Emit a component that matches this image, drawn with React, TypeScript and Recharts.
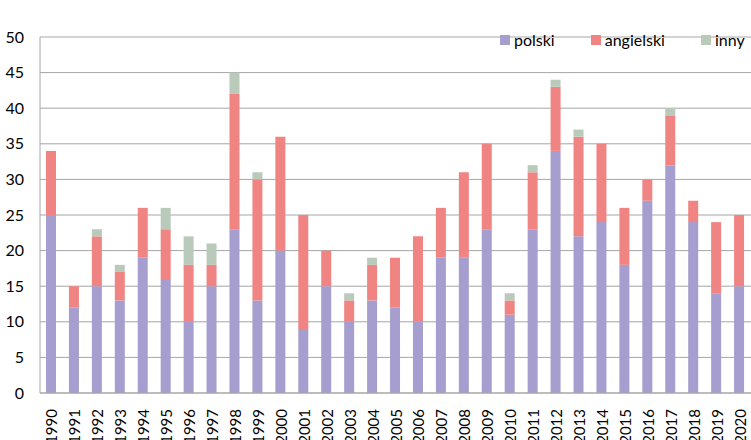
import React from 'react';
import { BarChart, Bar, XAxis, YAxis, CartesianGrid, Legend } from 'recharts';

const years = [
  '1990', '1991', '1992', '1993', '1994', '1995', '1996', '1997', '1998', '1999',
  '2000', '2001', '2002', '2003', '2004', '2005', '2006', '2007', '2008', '2009',
  '2010', '2011', '2012', '2013', '2014', '2015', '2016', '2017', '2018', '2019', '2020',
];
const polski = [25, 12, 15, 13, 19, 16, 10, 15, 23, 13, 20, 9, 15, 10, 13, 12, 10, 19, 19, 23, 11, 23, 34, 22, 24, 18, 27, 32, 24, 14, 15];
const angielski = [9, 3, 7, 4, 7, 7, 8, 3, 19, 17, 16, 16, 5, 3, 5, 7, 12, 7, 12, 12, 2, 8, 9, 14, 11, 8, 3, 7, 3, 10, 10];
const inny = [0, 0, 1, 1, 0, 3, 4, 3, 3, 1, 0, 0, 0, 1, 1, 0, 0, 0, 0, 0, 1, 1, 1, 1, 0, 0, 0, 1, 0, 0, 0];
const yTicks = [0, 5, 10, 15, 20, 25, 30, 35, 40, 45, 50];

const COLORS = { polski: '#A59ECE', angielski: '#F08482', inny: '#BACABA' };
const FONT = 'Lato, "Noto Sans", sans-serif';

const data = years.map((year, i) => ({
  year,
  polski: polski[i],
  angielski: angielski[i],
  inny: inny[i],
}));

const YearTick = (props: any) => {
  const { x, y, payload } = props;
  return (
    <text
      x={x}
      y={y + 8}
      transform={`rotate(-90, ${x}, ${y + 8})`}
      textAnchor="end"
      dominantBaseline="central"
      fontSize={15}
      fontFamily={FONT}
      fill="#000"
    >
      {payload.value}
    </text>
  );
};

const LegendContent = () => {
  const items = [
    { name: 'polski', color: COLORS.polski },
    { name: 'angielski', color: COLORS.angielski },
    { name: 'inny', color: COLORS.inny },
  ];
  return (
    <div style={{ display: 'flex', fontFamily: FONT, fontSize: 16, color: '#000' }}>
      {items.map((it) => (
        <div key={it.name} style={{ display: 'flex', alignItems: 'center', marginRight: 36 }}>
          <span style={{ width: 10, height: 10, background: it.color, marginRight: 4, display: 'inline-block' }} />
          <span>{it.name}</span>
        </div>
      ))}
    </div>
  );
};

export default function App() {
  return (
    <div style={{ width: 751, height: 440 }}>
      <style>{'body{margin:0}'}</style>
      <BarChart
        width={751}
        height={440}
        data={data}
        margin={{ top: 18, right: 0, bottom: 0, left: 0 }}
        barSize={10}
      >
        <CartesianGrid vertical={false} stroke="#a6a6a6" />
        <XAxis
          dataKey="year"
          height={47}
          interval={0}
          tickLine={false}
          axisLine={{ stroke: '#a6a6a6' }}
          tick={<YearTick />}
        />
        <YAxis
          domain={[0, 50]}
          ticks={yTicks}
          width={40}
          tickLine={false}
          axisLine={{ stroke: '#a6a6a6' }}
          tickMargin={10}
          tick={{ fontSize: 16, fontFamily: FONT, fill: '#000' }}
        />
        <Legend
          verticalAlign="top"
          content={<LegendContent />}
          wrapperStyle={{ top: 30, left: 500, width: 260 }}
        />
        <Bar dataKey="polski" stackId="a" fill={COLORS.polski} isAnimationActive={false} />
        <Bar dataKey="angielski" stackId="a" fill={COLORS.angielski} isAnimationActive={false} />
        <Bar dataKey="inny" stackId="a" fill={COLORS.inny} isAnimationActive={false} />
      </BarChart>
    </div>
  );
}
